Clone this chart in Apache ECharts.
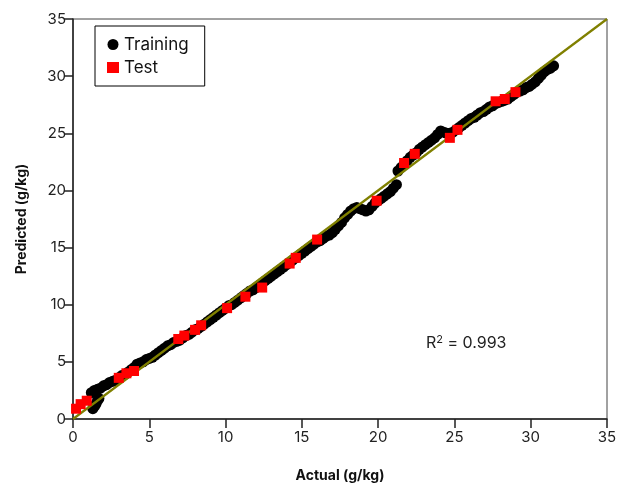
<!DOCTYPE html>
<html>
<head>
<meta charset="utf-8">
<script src="https://cdn.jsdelivr.net/npm/echarts@6/dist/echarts.min.js"></script>
<style>html,body{margin:0;padding:0;background:#fff;}#c{width:620px;height:489px;}</style>
</head>
<body>
<div id="c"></div>
<script>
var axisTicks = [0, 5, 10, 15, 20, 25, 30, 35];
var training = [
[1.3,0.9],[1.4,1.1],[1.5,1.3],[1.6,1.6],[1.7,1.8],
[1.2,2.3],[1.4,2.5],[1.6,2.6],[1.8,2.7],[2.0,2.9],[2.2,3.0],[2.4,3.2],[2.6,3.3],[2.8,3.4],[3.0,3.6],
[3.2,3.8],[3.4,3.9],[3.6,4.1],[3.8,4.3],[4.0,4.5],[4.2,4.8],[4.4,4.9],[4.6,5.0],[4.8,5.2],[5.0,5.3],
[5.2,5.4],[5.4,5.6],[5.6,5.8],[5.8,6.0],[6.0,6.2],[6.2,6.4],[6.4,6.5],[6.6,6.7],[6.8,6.8],[7.0,6.9],
[7.2,7.1],[7.4,7.3],[7.6,7.4],[7.8,7.6],[8.0,7.8],[8.2,7.9],[8.4,8.1],[8.6,8.3],[8.8,8.5],[9.0,8.7],
[9.2,8.9],[9.4,9.1],[9.6,9.3],[9.8,9.5],[10.0,9.7],[10.2,9.9],[10.4,10.0],[10.6,10.2],[10.8,10.4],[11.0,10.6],
[11.2,10.8],[11.4,11.0],[11.6,11.2],[11.8,11.3],[12.0,11.5],[12.2,11.7],[12.4,11.9],[12.6,12.1],[12.8,12.3],[13.0,12.5],
[13.2,12.7],[13.4,12.9],[13.6,13.1],[13.8,13.3],[14.0,13.5],[14.2,13.7],[14.4,13.9],[14.6,14.1],[14.8,14.3],[15.0,14.5],
[15.2,14.7],[15.4,14.9],[15.6,15.1],[15.8,15.3],[16.0,15.5],[16.2,15.6],[16.4,15.8],[16.6,16.0],[16.8,16.1],[17.0,16.3],
[17.2,16.6],[17.4,16.9],[17.6,17.2],[17.8,17.6],[18.0,17.9],[18.2,18.2],[18.4,18.4],[18.6,18.5],[18.8,18.4],[19.0,18.3],
[19.2,18.2],[19.4,18.3],[19.6,18.6],[19.8,18.9],[20.0,19.1],[20.2,19.3],[20.4,19.5],[20.6,19.7],[20.8,19.9],[21.0,20.2],
[21.2,20.5],
[21.3,21.7],[21.5,22.0],[21.7,22.3],[21.9,22.6],[22.1,22.9],[22.3,23.1],[22.5,23.3],[22.7,23.6],[22.9,23.8],[23.1,24.0],
[23.3,24.2],[23.5,24.4],[23.7,24.6],[23.9,24.9],[24.1,25.2],[24.3,25.1],[24.5,25.0],[24.7,25.0],[24.9,25.1],[25.1,25.3],
[25.3,25.5],[25.5,25.7],[25.7,25.9],[25.9,26.1],[26.1,26.3],[26.3,26.4],[26.5,26.6],[26.7,26.8],[26.9,26.9],[27.1,27.1],
[27.3,27.3],[27.5,27.4],[27.7,27.6],[27.9,27.7],[28.1,27.8],[28.3,27.9],[28.5,28.0],[28.7,28.2],[28.9,28.4],[29.1,28.6],
[29.3,28.7],[29.5,28.8],[29.7,29.0],[29.9,29.1],[30.1,29.3],[30.3,29.5],[30.5,29.8],[30.7,30.1],[30.9,30.4],[31.1,30.6],
[31.3,30.7],[31.5,30.9]
];
var test = [
[0.2,0.9],[0.5,1.3],[0.9,1.6],[3.0,3.6],[3.5,4.0],[4.0,4.2],[6.9,7.0],[7.3,7.3],[8.0,7.8],[8.4,8.2],
[10.1,9.7],[11.3,10.7],[12.4,11.5],[14.2,13.6],[14.6,14.1],[16.0,15.7],[19.9,19.1],[21.7,22.4],[22.4,23.2],
[24.7,24.6],[25.2,25.3],[27.7,27.8],[28.3,28.0],[29.0,28.6]
];
var oneToOne = [[0,0],[35,35]];
var r2Label = 'R{s|2} = 0.993';

var chart = echarts.init(document.getElementById('c'));
var font = 'Inter, "Noto Sans", sans-serif';
function axis(name, gap, margin) {
  return {
    type: 'value', min: axisTicks[0], max: axisTicks[axisTicks.length - 1], interval: 5,
    name: name, nameLocation: 'middle', nameGap: gap,
    nameTextStyle: {fontFamily: font, fontSize: 14, fontWeight: 'bold', color: '#111'},
    axisLine: {show: true, lineStyle: {color: '#222', width: 1.5}},
    axisTick: {show: true, inside: false, length: 9, lineStyle: {color: '#222', width: 1.5}},
    axisLabel: {fontFamily: font, fontSize: 15, color: '#222', margin: margin},
    splitLine: {show: false}
  };
}
chart.setOption({
  animation: false,
  backgroundColor: '#fff',
  grid: {left: 73, right: 13, top: 19, bottom: 70, show: true, borderColor: '#444', borderWidth: 1},
  xAxis: axis('Actual (g/kg)', 50, 11),
  yAxis: axis('Predicted (g/kg)', 44, 7),
  legend: {
    orient: 'vertical', left: 95, top: 26,
    borderColor: '#000', borderWidth: 1, padding: [10, 16, 10, 12],
    itemWidth: 12, itemHeight: 11, itemGap: 6,
    textStyle: {fontFamily: font, fontSize: 17, color: '#111', padding: [0,0,0,0]},
    data: [{name: 'Training', icon: 'circle'}, {name: 'Test', icon: 'rect'}]
  },
  title: {
    text: r2Label, left: 421, top: 329,
    textStyle: {fontFamily: font, fontSize: 16, fontWeight: 'normal', color: '#222',
      rich: {s: {fontFamily: font, fontSize: 11, color: '#222', padding: [0, 0, 8, 0]}}}
  },
  series: [
    {name: 'Training', type: 'scatter', data: training, symbol: 'circle', symbolSize: 11,
     itemStyle: {color: '#000', opacity: 1}, z: 2},
    {name: '1:1', type: 'line', data: oneToOne, symbol: 'none', lineStyle: {color: '#808000', width: 2.2},
     z: 3, silent: true},
    {name: 'Test', type: 'scatter', data: test, symbol: 'rect', symbolSize: 10,
     itemStyle: {color: '#ff0000', opacity: 1}, z: 4}
  ]
});
</script>
</body>
</html>
